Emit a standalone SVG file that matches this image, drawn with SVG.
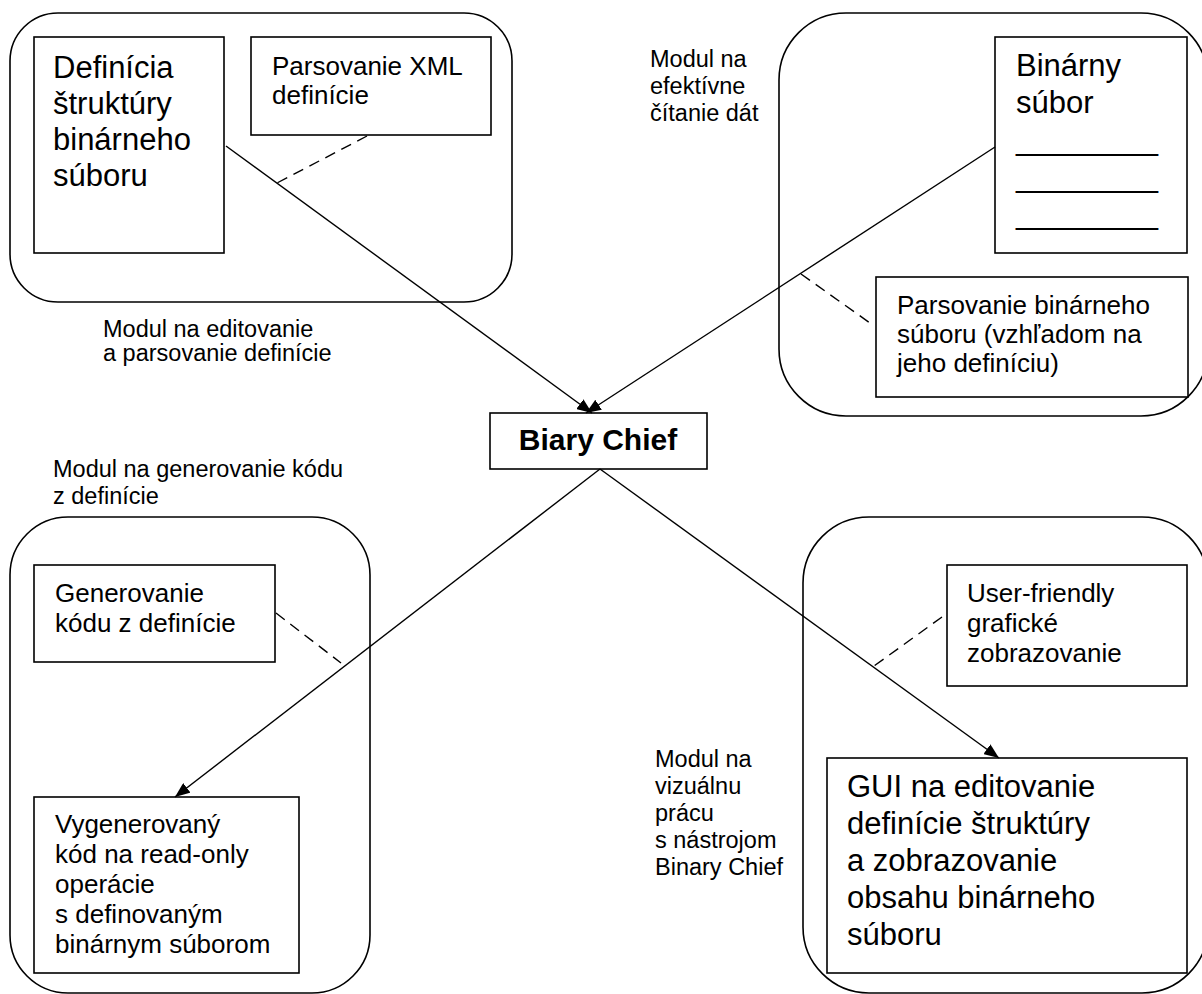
<svg xmlns="http://www.w3.org/2000/svg" width="1202" height="994" viewBox="0 0 1202 994">
<defs>
<style>
.outer{fill:none;stroke:#000;stroke-width:1.6}
.box{fill:#fff;stroke:#000;stroke-width:1.6}
.line{fill:none;stroke:#000;stroke-width:1.4}
.dash{fill:none;stroke:#000;stroke-width:1.4;stroke-dasharray:11 7}
text{font-family:"Liberation Sans",Arial,sans-serif;fill:#000}
.big{font-size:31px}
.mid{font-size:26px}
.lbl{font-size:23.5px}
.title{font-size:30px;font-weight:bold}
</style>
<marker id="arr" markerWidth="16" markerHeight="12" refX="15" refY="6" orient="auto" markerUnits="userSpaceOnUse">
<path d="M0,0 L15,6 L0,12 Z" fill="#000"/>
</marker>
</defs>
<rect width="1202" height="994" fill="#fff"/>

<g id="module-definition">
<rect class="outer" x="10" y="13" width="502" height="289" rx="48" ry="48"/>
<text class="lbl" x="103" y="337">Modul na editovanie</text>
<text class="lbl" x="103" y="361">a parsovanie definície</text>
</g>
<g id="definition-structure">
<rect class="box" x="34" y="37" width="190" height="216"/>
<text class="big" x="53" y="78">Definícia</text>
<text class="big" x="53" y="114">štruktúry</text>
<text class="big" x="53" y="150">binárneho</text>
<text class="big" x="53" y="186">súboru</text>
</g>
<g id="xml-parsing">
<rect class="box" x="251" y="37" width="240" height="98"/>
<text class="mid" x="272" y="75">Parsovanie XML</text>
<text class="mid" x="272" y="104">definície</text>
</g>

<g id="module-reading">
<rect class="outer" x="779" y="13" width="429" height="403" rx="67" ry="67"/>
<text class="lbl" x="650" y="67">Modul na</text>
<text class="lbl" x="650" y="94">efektívne</text>
<text class="lbl" x="650" y="121">čítanie dát</text>
</g>
<g id="binary-file">
<rect class="box" x="995" y="37" width="192" height="216"/>
<text class="big" x="1016" y="76">Binárny</text>
<text class="big" x="1016" y="113">súbor</text>
<text class="big" x="1016" y="150" textLength="142" lengthAdjust="spacingAndGlyphs">________</text>
<text class="big" x="1016" y="187" textLength="142" lengthAdjust="spacingAndGlyphs">________</text>
<text class="big" x="1016" y="224" textLength="142" lengthAdjust="spacingAndGlyphs">________</text>
</g>
<g id="binary-parsing">
<rect class="box" x="876" y="277" width="312" height="120"/>
<text class="mid" x="897" y="314">Parsovanie binárneho</text>
<text class="mid" x="897" y="343">súboru (vzhľadom na</text>
<text class="mid" x="897" y="372">jeho definíciu)</text>
</g>

<g id="binary-chief">
<rect class="box" x="490" y="413" width="217" height="56"/>
<text class="title" x="598" y="450" text-anchor="middle">Biary Chief</text>
</g>

<g id="module-codegen">
<rect class="outer" x="10" y="517" width="360" height="476" rx="58" ry="58"/>
<text class="lbl" x="53" y="477">Modul na generovanie kódu</text>
<text class="lbl" x="53" y="504">z definície</text>
</g>
<g id="code-generation">
<rect class="box" x="34" y="565" width="241" height="97"/>
<text class="mid" x="55" y="602">Generovanie</text>
<text class="mid" x="55" y="632">kódu z definície</text>
</g>
<g id="generated-code">
<rect class="box" x="34" y="797" width="265" height="176"/>
<text class="mid" x="55" y="833">Vygenerovaný</text>
<text class="mid" x="55" y="863">kód na read-only</text>
<text class="mid" x="55" y="893">operácie</text>
<text class="mid" x="55" y="923">s definovaným</text>
<text class="mid" x="55" y="953">binárnym súborom</text>
</g>

<g id="module-visual">
<rect class="outer" x="803" y="517" width="405" height="476" rx="66" ry="66"/>
<text class="lbl" x="655" y="767">Modul na</text>
<text class="lbl" x="655" y="794">vizuálnu</text>
<text class="lbl" x="655" y="821">prácu</text>
<text class="lbl" x="655" y="848">s nástrojom</text>
<text class="lbl" x="655" y="875">Binary Chief</text>
</g>
<g id="user-friendly">
<rect class="box" x="947" y="565" width="240" height="121"/>
<text class="mid" x="967" y="602">User-friendly</text>
<text class="mid" x="967" y="632">grafické</text>
<text class="mid" x="967" y="662">zobrazovanie</text>
</g>
<g id="gui">
<rect class="box" x="827" y="758" width="360" height="215"/>
<text class="big" x="847" y="797">GUI na editovanie</text>
<text class="big" x="847" y="834">definície štruktúry</text>
<text class="big" x="847" y="871">a zobrazovanie</text>
<text class="big" x="847" y="908">obsahu binárneho</text>
<text class="big" x="847" y="945">súboru</text>
</g>

<g id="connectors">
<line class="line" x1="226" y1="146" x2="592" y2="413" marker-end="url(#arr)"/>
<line class="line" x1="995" y1="147" x2="586" y2="413" marker-end="url(#arr)"/>
<line class="line" x1="600" y1="469" x2="175" y2="797" marker-end="url(#arr)"/>
<line class="line" x1="600" y1="469" x2="999" y2="758" marker-end="url(#arr)"/>
<line class="dash" x1="367" y1="136" x2="277" y2="183"/>
<line class="dash" x1="801" y1="274" x2="870" y2="323"/>
<line class="dash" x1="276" y1="613" x2="341" y2="663"/>
<line class="dash" x1="942" y1="617" x2="874" y2="666"/>
</g>
</svg>
